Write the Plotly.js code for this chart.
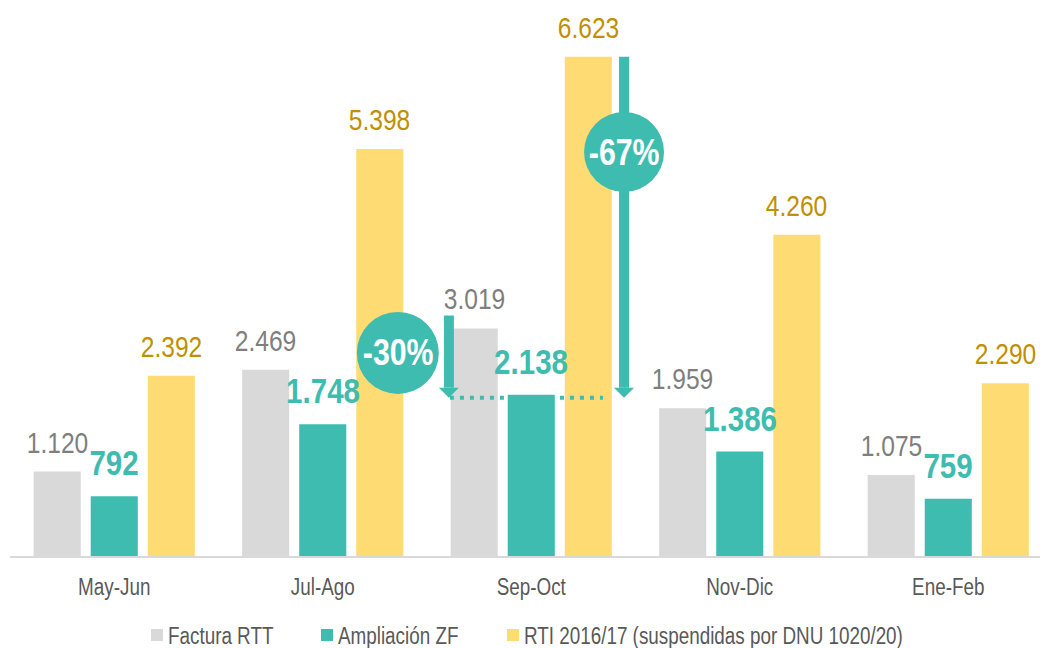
<!DOCTYPE html>
<html>
<head>
<meta charset="utf-8">
<script src="https://cdn.plot.ly/plotly-3.0.1.min.js"></script>
<style>html,body{margin:0;padding:0;background:#fff;}#chart{width:1040px;height:648px;}</style>
</head>
<body>
<div id="chart"></div>
<script>
const categories = ['May-Jun', 'Jul-Ago', 'Sep-Oct', 'Nov-Dic', 'Ene-Feb'];
const facturaRTT = [1120, 2469, 3019, 1959, 1075];
const ampliacionZF = [792, 1748, 2138, 1386, 759];
const rti201617 = [2392, 5398, 6623, 4260, 2290];
const seriesNames = ['Factura RTT', 'Ampliación ZF', 'RTI 2016/17 (suspendidas por DNU 1020/20)'];
const changeLabels = ['-30%', '-67%'];

const FONT = '"Liberation Sans", Arial, sans-serif';
const NARROW = 0.82;
const GRAY = '#d9d9d9', TEAL = '#3fbcb0', YELLOW = '#ffdc73';
const GRAY_TXT = '#7f7f7f', YELLOW_TXT = '#bf9000';

function fmt(v) { return String(v).replace(/\B(?=(\d{3})+(?!\d))/g, '.'); }

const traces = [
  {type: 'bar', name: seriesNames[0], x: categories, y: facturaRTT, marker: {color: GRAY}, hoverinfo: 'none'},
  {type: 'bar', name: seriesNames[1], x: categories, y: ampliacionZF, marker: {color: TEAL}, hoverinfo: 'none'},
  {type: 'bar', name: seriesNames[2], x: categories, y: rti201617, marker: {color: YELLOW}, hoverinfo: 'none'}
];

const off = 0.2735;
const annotations = [];
const specs = [
  {vals: facturaRTT, dx: -off, color: GRAY_TXT, size: 30, bold: false},
  {vals: ampliacionZF, dx: 0, color: TEAL, size: 36, bold: true},
  {vals: rti201617, dx: off, color: YELLOW_TXT, size: 30, bold: false}
];
specs.forEach(s => {
  s.vals.forEach((v, i) => {
    annotations.push({
      x: i + s.dx, y: v, xref: 'x', yref: 'y',
      text: s.bold ? '<b>' + fmt(v) + '</b>' : fmt(v),
      showarrow: false, yanchor: 'bottom', yshift: 11,
      font: {family: FONT, size: s.size, color: s.color}
    });
  });
});

// change indicators (Sep-Oct reference level = Ampliación ZF value)
const iSep = 2;
const level = ampliacionZF[iSep] - 38;
const c30 = {x: 1.360, y: 2693};
const c67 = {x: 2.445, y: 5359};
const a30x = 1.605, a67x = 2.445;
const headH = 133, headW = 0.048;

[[c30, changeLabels[0]], [c67, changeLabels[1]]].forEach(([c, t]) => {
  annotations.push({
    x: c.x, y: c.y, xref: 'x', yref: 'y', text: '<b>' + t + '</b>', showarrow: false,
    font: {family: FONT, size: 37, color: '#ffffff'}
  });
});

const shapes = [
  {type: 'line', xref: 'x', yref: 'y', x0: 1.61, x1: 2.344, y0: level, y1: level,
   line: {color: TEAL, width: 4, dash: '4px,6px'}, layer: 'above'},
  {type: 'line', xref: 'x', yref: 'y', x0: a30x, x1: a30x, y0: 3190, y1: level + headH,
   line: {color: TEAL, width: 10}, layer: 'above'},
  {type: 'path', xref: 'x', yref: 'y',
   path: `M${a30x - headW},${level + headH} L${a30x + headW},${level + headH} L${a30x},${level} Z`,
   fillcolor: TEAL, line: {width: 0}, layer: 'above'},
  {type: 'line', xref: 'x', yref: 'y', x0: a67x, x1: a67x, y0: rti201617[iSep], y1: level + headH,
   line: {color: TEAL, width: 10}, layer: 'above'},
  {type: 'path', xref: 'x', yref: 'y',
   path: `M${a67x - headW},${level + headH} L${a67x + headW},${level + headH} L${a67x},${level} Z`,
   fillcolor: TEAL, line: {width: 0}, layer: 'above'},
  {type: 'circle', xref: 'x', yref: 'y', xsizemode: 'pixel', ysizemode: 'pixel',
   xanchor: c30.x, yanchor: c30.y, x0: -41, x1: 41, y0: -41, y1: 41,
   fillcolor: TEAL, line: {width: 0}, layer: 'above'},
  {type: 'circle', xref: 'x', yref: 'y', xsizemode: 'pixel', ysizemode: 'pixel',
   xanchor: c67.x, yanchor: c67.y, x0: -40, x1: 40, y0: -40, y1: 40,
   fillcolor: TEAL, line: {width: 0}, layer: 'above'}
];

const layout = {
  width: 1040, height: 648,
  margin: {l: 10, r: 0, t: 20, b: 92, autoexpand: false},
  paper_bgcolor: '#ffffff', plot_bgcolor: '#ffffff',
  barmode: 'group', bargap: 0.179, bargroupgap: 0.175,
  font: {family: FONT, color: '#595959', size: 21},
  xaxis: {
    type: 'category', range: [-0.5, 4.44], showgrid: false, zeroline: false, automargin: false,
    showline: true, linecolor: '#d9d9d9', linewidth: 2, ticks: '',
    tickfont: {family: FONT, size: 23, color: '#595959'}, ticklabelstandoff: 9, fixedrange: true
  },
  yaxis: {range: [0, 7110], visible: false, showgrid: false, zeroline: false, fixedrange: true, automargin: false},
  showlegend: true,
  legend: {
    orientation: 'h', x: 0.5, xanchor: 'center', y: -0.1474, yanchor: 'middle',
    font: {family: FONT, size: 23, color: '#595959'}, itemclick: false, itemdoubleclick: false,
    traceorder: 'normal', itemwidth: 30
  },
  annotations: annotations,
  shapes: shapes
};

// legend square left edges (px) and gap square->text
const legendSquareLeft = [151, 321, 507];
const legendTextGap = 5;

function condense(sel) {
  document.querySelectorAll(sel).forEach(el => {
    const x = parseFloat(el.getAttribute('x')) || 0;
    const t = el.getAttribute('transform') || '';
    el.setAttribute('transform', `${t} translate(${x},0) scale(${NARROW},1) translate(${-x},0)`.trim());
  });
}

function placeLegend() {
  const root = document.getElementById('chart').getBoundingClientRect();
  const items = document.querySelectorAll('#chart .legend .traces');
  items.forEach((g, i) => {
    const sym = g.querySelector('.legendpoints path');
    const txt = g.querySelector('.legendtext');
    if (!sym || !txt) return;
    const sr = sym.getBoundingClientRect();
    const dx = legendSquareLeft[i] - (sr.left - root.left);
    const tr = g.getAttribute('transform') || 'translate(0,0)';
    const m = tr.match(/translate\(\s*([-\d.eE]+)[ ,]+([-\d.eE]+)\s*\)/);
    const tx = m ? parseFloat(m[1]) : 0, ty = m ? parseFloat(m[2]) : 0;
    g.setAttribute('transform', `translate(${tx + dx},${ty})`);
    const sr2 = sym.getBoundingClientRect();
    const tr2 = txt.getBoundingClientRect();
    const tdx = (sr2.right + legendTextGap) - tr2.left;
    const oldX = parseFloat(txt.getAttribute('x')) || 0;
    txt.setAttribute('x', oldX + tdx);
    txt.querySelectorAll('tspan[x]').forEach(ts => ts.setAttribute('x', oldX + tdx));
  });
}

Plotly.newPlot('chart', traces, layout, {displayModeBar: false, staticPlot: true}).then(() => {
  placeLegend();
  condense('#chart .annotation-text');
  condense('#chart .xtick text');
  condense('#chart .legendtext');
});
</script>
</body>
</html>
